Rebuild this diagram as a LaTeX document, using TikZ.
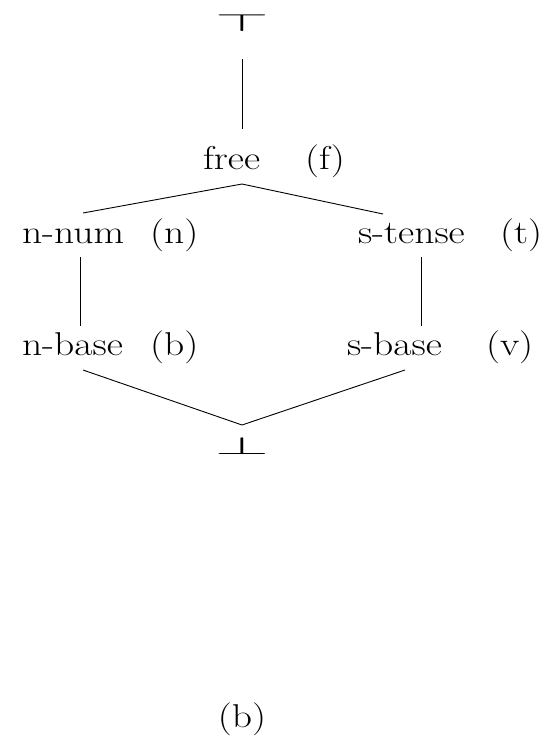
\documentclass[tikz,border=0pt]{standalone}
\usepackage{graphicx}
\tikzset{
  lbl/.style={inner sep=0pt, outer sep=0pt, anchor=base west, font=\fontsize{33}{38}\selectfont},
  sym/.style={inner sep=0pt, outer sep=0pt, anchor=base, font=\fontsize{25}{30}\selectfont},
  edge/.style={line width=0.9pt}
}
\newcommand{\wide}[1]{\scalebox{1.2}[1]{#1}}
\begin{document}
\begin{tikzpicture}[x=1pt,y=-1pt]
\useasboundingbox (0,0) rectangle (548,742);
% top and bottom symbols
\node[sym] (top) at (242,31) {\scalebox{2.8}[1]{$\top$}};
\node[sym] (bot) at (242,454) {\scalebox{2.8}[1]{$\bot$}};
% labels
\node[lbl] (free) at (203,169) {\wide{free}};
\node[lbl] (freet) at (305,169) {\wide{(f)}};
\node[lbl] (nnum) at (22,243) {\wide{n-num}};
\node[lbl] (nnumt) at (150,243) {\wide{(n)}};
\node[lbl] (stense) at (358,243) {\wide{s-tense}};
\node[lbl] (stenset) at (500,243) {\wide{(t)}};
\node[lbl] (nbase) at (22,355) {\wide{n-base}};
\node[lbl] (nbaset) at (150,355) {\wide{(b)}};
\node[lbl] (sbase) at (347,355) {\wide{s-base}};
\node[lbl] (sbaset) at (486,355) {\wide{(v)}};
\node[lbl, anchor=base] (cap) at (242,727) {\wide{(b)}};
% connector points
\coordinate (topend) at (242,59);
\coordinate (freetop) at (242,129);
\coordinate (fork) at (242,184);
\coordinate (nnumin) at (83,213);
\coordinate (stensein) at (383,214);
\coordinate (nnumout) at (80,257);
\coordinate (nbasein) at (80,326);
\coordinate (stenseout) at (421,257);
\coordinate (sbasein) at (421,326);
\coordinate (nbaseout) at (83,370);
\coordinate (sbaseout) at (405,370);
\coordinate (join) at (242,425);
% connectors
\draw[edge] (topend) -- (freetop);
\draw[edge] (nnumin) -- (fork) -- (stensein);
\draw[edge] (nnumout) -- (nbasein);
\draw[edge] (stenseout) -- (sbasein);
\draw[edge] (nbaseout) -- (join) -- (sbaseout);
\end{tikzpicture}
\end{document}
